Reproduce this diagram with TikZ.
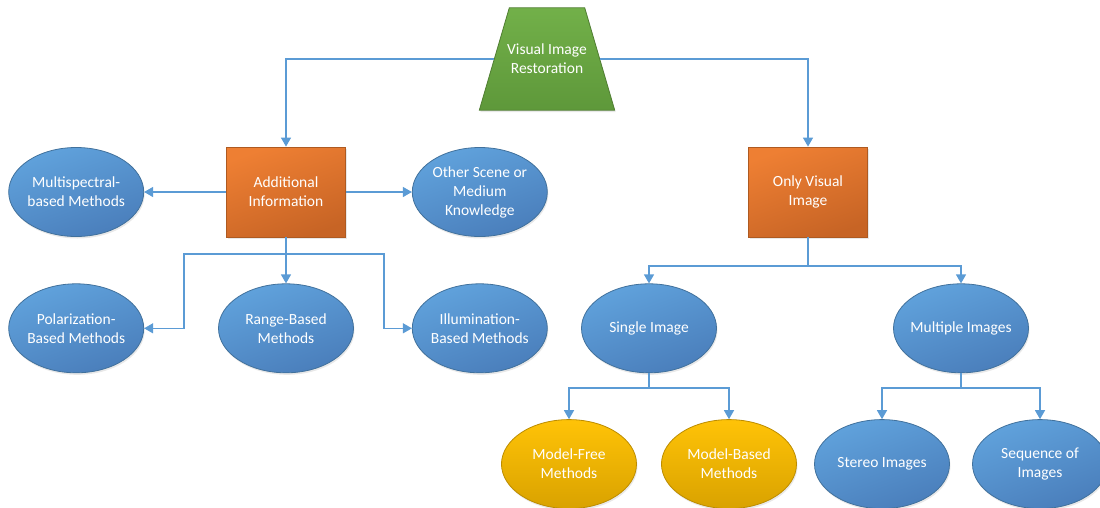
\documentclass[tikz,border=0pt]{standalone}
\usepackage{fontspec}
\setmainfont{Carlito}
\usepackage{tikz}
\usetikzlibrary{arrows.meta, calc, shapes.geometric, shadows, positioning, backgrounds}

\definecolor{blueA}{HTML}{60A2DC}
\definecolor{blueB}{HTML}{4A7EBB}
\definecolor{blueE}{HTML}{41719C}
\definecolor{orangeA}{HTML}{EE7F33}
\definecolor{orangeB}{HTML}{C76425}
\definecolor{orangeE}{HTML}{AE5A21}
\definecolor{greenA}{HTML}{72B049}
\definecolor{greenB}{HTML}{5E983A}
\definecolor{greenE}{HTML}{507E32}
\definecolor{goldA}{HTML}{FFC307}
\definecolor{goldB}{HTML}{D9A200}
\definecolor{goldE}{HTML}{BC8C00}
\definecolor{connC}{HTML}{5B9BD5}

\begin{document}
\begin{tikzpicture}[
    x=1pt, y=-1pt,
    every node/.style={font=\fontsize{15.5}{19}\selectfont, text=white, align=center},
    shad/.style={drop shadow={opacity=0.18, shadow xshift=1pt, shadow yshift=-2pt}},
    ell/.style={ellipse, draw=blueE, line width=0.8pt, shad, top color=blueA,
      bottom color=blueB, shading angle=20, minimum width=135pt, minimum height=89pt, inner sep=-4pt},
    gold/.style={ell, draw=goldE, top color=goldA, bottom color=goldB},
    box/.style={rectangle, draw=orangeE, line width=0.8pt, shad, top color=orangeA,
      bottom color=orangeB, shading angle=20, minimum width=119pt, minimum height=90pt, inner sep=0pt},
    trapbody/.style={rectangle, minimum width=105pt, minimum height=102pt, inner sep=0pt},
    trapfill/.style={draw=greenE, line width=0.8pt, shad, top color=greenA, bottom color=greenB},
    conn/.style={draw=connC, line width=1.3pt, -{Triangle[width=10pt, length=9pt]}}
  ]
    \useasboundingbox (0,0) rectangle (1100,507);

    \node[trapbody] (root) at (547,59) {Visual Image\\Restoration};
    \begin{scope}[on background layer]
      \shade[trapfill] ($(root.south west)+(-15,0)$) -- ($(root.north west)+(15,0)$)
        -- ($(root.north east)+(-15,0)$) -- ($(root.south east)+(15,0)$) -- cycle;
    \end{scope}
    \node[box] (add) at (286,192) {Additional\\Information};
    \node[box] (only) at (808,192) {Only Visual\\Image};

    % left branch
    \node[ell, left=82pt of add] (multisp) {Multispectral-\\based Methods};
    \node[ell, right=66pt of add] (other) {Other Scene or\\Medium\\Knowledge};
    \node[ell, below=46pt of add] (range) {Range-Based\\Methods};
    \node[ell, left=74pt of range] (polar) {Polarization-\\Based Methods};
    \node[ell, right=58pt of range] (illum) {Illumination-\\Based Methods};

    % right branch
    \node[ell, below=46pt of only, xshift=-159pt] (single) {Single Image};
    \node[ell, below=46pt of only, xshift=153pt] (multiple) {Multiple Images};
    \node[gold, below=46pt of single, xshift=-80pt] (free) {Model-Free\\Methods};
    \node[gold, below=46pt of single, xshift=80pt] (based) {Model-Based\\Methods};
    \node[ell, below=46pt of multiple, xshift=-79pt] (stereo) {Stereo Images};
    \node[ell, below=46pt of multiple, xshift=79pt] (seq) {Sequence of\\Images};

    \coordinate (lbend) at (184,254);
    \coordinate (rbend) at (384,254);
    \coordinate (osplit) at (808,266);
    \coordinate (ssplit) at (649,388);
    \coordinate (msplit) at (961,388);

    \draw[conn] (root.west) -| (add.north);
    \draw[conn] (root.east) -| (only.north);
    \draw[conn] (add.west) -- (multisp.east);
    \draw[conn] (add.east) -- (other.west);
    \draw[conn] (add.south) -- (range.north);
    \draw[conn] (add.south) |- (lbend) |- (polar.east);
    \draw[conn] (add.south) |- (rbend) |- (illum.west);
    \draw[conn] (only.south) -- (osplit) -| (single.north);
    \draw[conn] (only.south) -- (osplit) -| (multiple.north);
    \draw[conn] (single.south) -- (ssplit) -| (free.north);
    \draw[conn] (single.south) -- (ssplit) -| (based.north);
    \draw[conn] (multiple.south) -- (msplit) -| (stereo.north);
    \draw[conn] (multiple.south) -- (msplit) -| (seq.north);
\end{tikzpicture}
\end{document}
